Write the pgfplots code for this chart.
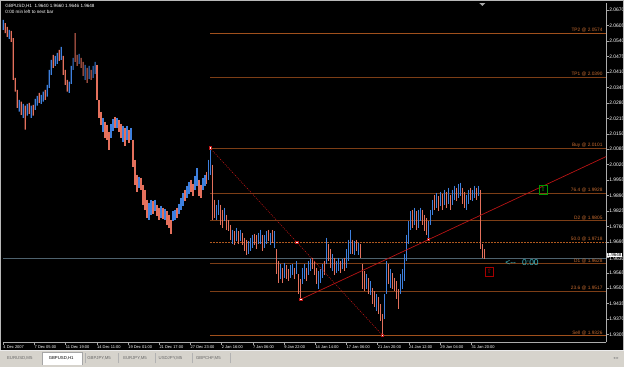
\documentclass[border=0pt]{standalone}
\usepackage{pgfplots}
\pgfplotsset{compat=1.18}
\usepackage{fontspec}
\setmainfont{Liberation Sans}
\newfontfamily\dejavu{DejaVu Sans}
\definecolor{upc}{RGB}{62,128,222}
\definecolor{dnc}{RGB}{228,112,92}
\definecolor{lvl}{RGB}{125,62,22}
\definecolor{lvld}{RGB}{175,88,30}
\definecolor{lvls}{RGB}{160,80,28}
\definecolor{lvltxt}{RGB}{200,108,48}
\definecolor{trend}{RGB}{185,20,20}
\definecolor{tabbg}{RGB}{214,211,204}
\definecolor{cyanish}{RGB}{64,186,196}
\definecolor{pricel}{RGB}{78,98,110}
\newcommand\lvlfont{\fontsize{4.8}{5}\selectfont}

\begin{document}
\begin{tikzpicture}[x=1pt,y=1pt]
% backgrounds
\fill[black] (0,17) rectangle (625,368);
\fill[tabbg] (0,0) rectangle (625,17);

\begin{axis}[
  at={(3pt,25pt)}, anchor=south west, scale only axis,
  width=604pt, height=340pt,
  xmin=3, xmax=607, ymin=1.92724, ymax=2.07004,
  axis x line*=bottom, axis y line*=right,
  axis line style={-, draw=gray!65, line width=0.6pt},
  clip=false, unbounded coords=jump,
  tick align=outside, major tick length=2.5pt,
  tick style={draw=gray!70, line width=0.5pt},
  xtick={3,34.27,65.53,96.8,128.07,159.33,190.6,221.87,253.13,284.4,315.67,346.93,378.2,409.47,440.73,472},
  xticklabels={4 Dec 2007,7 Dec 05:00,11 Dec 19:00,14 Dec 11:00,19 Dec 01:00,21 Dec 17:00,27 Dec 23:00,2 Jan 16:00,7 Jan 06:00,9 Jan 22:00,14 Jan 14:00,17 Jan 06:00,21 Jan 20:00,24 Jan 12:00,29 Jan 04:00,31 Jan 20:00},
  xticklabel style={anchor=north west, text=white, font=\fontsize{4}{4}\selectfont, inner sep=0.5pt, xshift=-0.5pt},
  ytick={2.0670,2.0605,2.0540,2.0475,2.0410,2.0345,2.0280,2.0215,2.0150,2.0085,2.0020,1.9955,1.9890,1.9825,1.9760,1.9695,1.9630,1.9565,1.9500,1.9435,1.9370,1.9305},
  yticklabels={2.0670,2.0605,2.0540,2.0475,2.0410,2.0345,2.0280,2.0215,2.0150,2.0085,2.0020,1.9955,1.9890,1.9825,1.9760,1.9695,\raisebox{-7pt}{1.9630},1.9565,1.9500,1.9435,1.9370,1.9305},
  yticklabel style={anchor=west, text=white, font=\fontsize{5}{5}\selectfont, inner sep=0.5pt},
]
% level lines
\addplot[color=lvls, line width=0.6pt] coordinates {(210,2.0574) (607,2.0574)};
\addplot[color=lvl, line width=0.7pt] coordinates {(210,2.0388) (607,2.0388)};
\addplot[color=lvl, line width=0.7pt] coordinates {(210,2.0089) (607,2.0089)};
\addplot[color=lvl, line width=0.7pt] coordinates {(210,1.9901) (607,1.9901)};
\addplot[color=lvl, line width=0.7pt] coordinates {(210,1.9786) (607,1.9786)};
\addplot[color=lvld, dash pattern=on 2pt off 1pt, line width=0.7pt] coordinates {(210,1.9695) (607,1.9695)};
\addplot[color=lvl, line width=0.7pt] coordinates {(210,1.9604) (607,1.9604)};
\addplot[color=lvl, line width=0.7pt] coordinates {(210,1.9488) (607,1.9488)};
\addplot[color=lvls, line width=0.6pt] coordinates {(210,1.9302) (607,1.9302)};
% current price line
\addplot[color=pricel, line width=0.6pt] coordinates {(3,1.9625) (607,1.9625)};
% up bars 4-7 Dec as filled rectangles (x +- 0.6, low .. high)
\addplot[fill=upc, draw=none, mark=none] coordinates {
(2.4,2.0587)(3.6,2.0587)(3.6,2.0629)(2.4,2.0629)(3,nan)
(8.4,2.0549)(9.6,2.0549)(9.6,2.0587)(8.4,2.0587)(9,nan)
(18.4,2.0243)(19.6,2.0243)(19.6,2.0293)(18.4,2.0293)(19,nan)
(22.4,2.0217)(23.6,2.0217)(23.6,2.0276)(22.4,2.0276)(23,nan)
(26.4,2.0226)(27.6,2.0226)(27.6,2.0276)(26.4,2.0276)(27,nan)
(30.4,2.0217)(31.6,2.0217)(31.6,2.0268)(30.4,2.0268)(31,nan)
(34.4,2.0251)(35.6,2.0251)(35.6,2.0297)(34.4,2.0297)(35,nan)
(36.4,2.0268)(37.6,2.0268)(37.6,2.0310)(36.4,2.0310)(37,nan)
(40.4,2.0276)(41.6,2.0276)(41.6,2.0314)(40.4,2.0314)(41,nan)
(42.4,2.0285)(43.6,2.0285)(43.6,2.0327)(42.4,2.0327)(43,nan)
(46.4,2.0306)(47.6,2.0306)(47.6,2.0356)(46.4,2.0356)(47,nan)
(48.4,2.0343)(49.6,2.0343)(49.6,2.0419)(48.4,2.0419)(49,nan)
(50.4,2.0398)(51.6,2.0398)(51.6,2.0461)(50.4,2.0461)(51,nan)
(54.4,2.0436)(55.6,2.0436)(55.6,2.0478)(54.4,2.0478)(55,nan)
(56.4,2.0444)(57.6,2.0444)(57.6,2.0490)(56.4,2.0490)(57,nan)
(60.4,2.0461)(61.6,2.0461)(61.6,2.0516)(60.4,2.0516)(61,nan)
(68.4,2.0322)(69.6,2.0322)(69.6,2.0369)(68.4,2.0369)(69,nan)
(70.4,2.0360)(71.6,2.0360)(71.6,2.0436)(70.4,2.0436)(71,nan)
(72.4,2.0419)(73.6,2.0419)(73.6,2.0469)(72.4,2.0469)(73,nan)
(78.4,2.0444)(79.6,2.0444)(79.6,2.0486)(78.4,2.0486)(79,nan)
(84.4,2.0377)(85.6,2.0377)(85.6,2.0440)(84.4,2.0440)(85,nan)
(88.4,2.0381)(89.6,2.0381)(89.6,2.0436)(88.4,2.0436)(89,nan)
(92.4,2.0385)(93.6,2.0385)(93.6,2.0436)(92.4,2.0436)(93,nan)
(94.4,2.0402)(95.6,2.0402)(95.6,2.0453)(94.4,2.0453)
};
% down bars 4-7 Dec as filled rectangles
\addplot[fill=dnc, draw=none, mark=none] coordinates {
(4.4,2.0574)(5.6,2.0574)(5.6,2.0616)(4.4,2.0616)(5,nan)
(6.4,2.0558)(7.6,2.0558)(7.6,2.0600)(6.4,2.0600)(7,nan)
(10.4,2.0537)(11.6,2.0537)(11.6,2.0583)(10.4,2.0583)(11,nan)
(12.4,2.0377)(13.6,2.0377)(13.6,2.0553)(12.4,2.0553)(13,nan)
(14.4,2.0327)(15.6,2.0327)(15.6,2.0385)(14.4,2.0385)(15,nan)
(16.4,2.0259)(17.6,2.0259)(17.6,2.0335)(16.4,2.0335)(17,nan)
(20.4,2.0230)(21.6,2.0230)(21.6,2.0285)(20.4,2.0285)(21,nan)
(24.4,2.0167)(25.6,2.0167)(25.6,2.0268)(24.4,2.0268)(25,nan)
(28.4,2.0234)(29.6,2.0234)(29.6,2.0280)(28.4,2.0280)(29,nan)
(32.4,2.0226)(33.6,2.0226)(33.6,2.0272)(32.4,2.0272)(33,nan)
(38.4,2.0280)(39.6,2.0280)(39.6,2.0322)(38.4,2.0322)(39,nan)
(44.4,2.0293)(45.6,2.0293)(45.6,2.0335)(44.4,2.0335)(45,nan)
(52.4,2.0427)(53.6,2.0427)(53.6,2.0482)(52.4,2.0482)(53,nan)
(58.4,2.0457)(59.6,2.0457)(59.6,2.0503)(58.4,2.0503)(59,nan)
(62.4,2.0398)(63.6,2.0398)(63.6,2.0478)(62.4,2.0478)(63,nan)
(64.4,2.0356)(65.6,2.0356)(65.6,2.0419)(64.4,2.0419)(65,nan)
(66.4,2.0327)(67.6,2.0327)(67.6,2.0377)(66.4,2.0377)(67,nan)
(74.4,2.0453)(75.6,2.0453)(75.6,2.0574)(74.4,2.0574)(75,nan)
(76.4,2.0436)(77.6,2.0436)(77.6,2.0482)(76.4,2.0482)(77,nan)
(80.4,2.0427)(81.6,2.0427)(81.6,2.0469)(80.4,2.0469)(81,nan)
(82.4,2.0394)(83.6,2.0394)(83.6,2.0453)(82.4,2.0453)(83,nan)
(86.4,2.0364)(87.6,2.0364)(87.6,2.0427)(86.4,2.0427)(87,nan)
(90.4,2.0377)(91.6,2.0377)(91.6,2.0419)(90.4,2.0419)
};
% up bars from 7 Dec onward: (x, high) (x, low)
\addplot[color=upc, line width=1.25pt, mark=none] coordinates {
(103,2.0217)(103,2.0159)(103,nan)
(111,2.0192)(111,2.0133)(111,nan)
(113,2.0213)(113,2.0163)(113,nan)
(117,2.0217)(117,2.0175)(117,nan)
(123,2.0184)(123,2.0117)(123,nan)
(127,2.0184)(127,2.0125)(127,nan)
(131,2.0175)(131,2.0125)(131,nan)
(139,1.9970)(139,1.9923)(139,nan)
(149,1.9860)(149,1.9789)(149,nan)
(151,1.9873)(151,1.9810)(151,nan)
(155,1.9873)(155,1.9823)(155,nan)
(161,1.9848)(161,1.9797)(161,nan)
(165,1.9835)(165,1.9789)(165,nan)
(173,1.9823)(173,1.9781)(173,nan)
(175,1.9831)(175,1.9789)(175,nan)
(179,1.9856)(179,1.9814)(179,nan)
(181,1.9881)(181,1.9831)(181,nan)
(183,1.9902)(183,1.9848)(183,nan)
(187,1.9932)(187,1.9881)(187,nan)
(189,1.9949)(189,1.9898)(189,nan)
(195,1.9974)(195,1.9915)(195,nan)
(197,2.0007)(197,1.9932)(197,nan)
(203,1.9965)(203,1.9915)(203,nan)
(205,1.9978)(205,1.9932)(205,nan)
(209,2.0041)(209,1.9957)(209,nan)
(211,2.0091)(211,1.9978)(211,nan)
(217,1.9852)(217,1.9789)(217,nan)
(219,1.9873)(219,1.9810)(219,nan)
(225,1.9839)(225,1.9781)(225,nan)
(233,1.9747)(233,1.9684)(233,nan)
(237,1.9755)(237,1.9697)(237,nan)
(241,1.9747)(241,1.9697)(241,nan)
(249,1.9697)(249,1.9642)(249,nan)
(251,1.9713)(251,1.9655)(251,nan)
(253,1.9726)(253,1.9671)(253,nan)
(259,1.9734)(259,1.9688)(259,nan)
(261,1.9747)(261,1.9684)(261,nan)
(265,1.9722)(265,1.9671)(265,nan)
(267,1.9739)(267,1.9688)(267,nan)
(271,1.9734)(271,1.9680)(271,nan)
(275,1.9739)(275,1.9671)(275,nan)
(281,1.9600)(281,1.9537)(281,nan)
(285,1.9608)(285,1.9545)(285,nan)
(291,1.9596)(291,1.9541)(291,nan)
(293,1.9604)(293,1.9554)(293,nan)
(297,1.9613)(297,1.9558)(297,nan)
(303,1.9587)(303,1.9516)(303,nan)
(305,1.9600)(305,1.9537)(305,nan)
(309,1.9613)(309,1.9554)(309,nan)
(311,1.9621)(311,1.9571)(311,nan)
(319,1.9571)(319,1.9495)(319,nan)
(321,1.9579)(321,1.9520)(321,nan)
(323,1.9600)(323,1.9545)(323,nan)
(327,1.9713)(327,1.9600)(327,nan)
(333,1.9642)(333,1.9571)(333,nan)
(337,1.9613)(337,1.9562)(337,nan)
(339,1.9629)(339,1.9571)(339,nan)
(343,1.9621)(343,1.9579)(343,nan)
(347,1.9663)(347,1.9587)(347,nan)
(349,1.9705)(349,1.9613)(349,nan)
(351,1.9747)(351,1.9642)(351,nan)
(355,1.9697)(355,1.9638)(355,nan)
(359,1.9692)(359,1.9638)(359,nan)
(367,1.9558)(367,1.9495)(367,nan)
(371,1.9529)(371,1.9470)(371,nan)
(377,1.9474)(377,1.9403)(377,nan)
(385,1.9474)(385,1.9369)(385,nan)
(387,1.9613)(387,1.9474)(387,nan)
(391,1.9579)(391,1.9503)(391,nan)
(401,1.9558)(401,1.9474)(401,nan)
(403,1.9579)(403,1.9495)(403,nan)
(405,1.9642)(405,1.9529)(405,nan)
(407,1.9726)(407,1.9613)(407,nan)
(409,1.9781)(409,1.9684)(409,nan)
(411,1.9823)(411,1.9747)(411,nan)
(415,1.9839)(415,1.9768)(415,nan)
(419,1.9831)(419,1.9755)(419,nan)
(421,1.9839)(421,1.9781)(421,nan)
(429,1.9781)(429,1.9705)(429,nan)
(431,1.9831)(431,1.9768)(431,nan)
(433,1.9873)(433,1.9810)(433,nan)
(437,1.9902)(437,1.9839)(437,nan)
(441,1.9907)(441,1.9848)(441,nan)
(445,1.9915)(445,1.9852)(445,nan)
(449,1.9923)(449,1.9856)(449,nan)
(453,1.9915)(453,1.9852)(453,nan)
(455,1.9932)(455,1.9873)(455,nan)
(459,1.9940)(459,1.9881)(459,nan)
(461,1.9944)(461,1.9890)(461,nan)
(467,1.9894)(467,1.9831)(467,nan)
(469,1.9915)(469,1.9856)(469,nan)
(473,1.9915)(473,1.9865)(473,nan)
(475,1.9932)(475,1.9881)(475,nan)
(479,1.9932)(479,1.9890)
};
% down bars from 7 Dec onward
\addplot[color=dnc, line width=1.25pt, mark=none] coordinates {
(97,2.0440)(97,2.0293)(97,nan)
(99,2.0293)(99,2.0217)(99,nan)
(101,2.0243)(101,2.0188)(101,nan)
(105,2.0201)(105,2.0133)(105,nan)
(107,2.0188)(107,2.0125)(107,nan)
(109,2.0159)(109,2.0083)(109,nan)
(115,2.0222)(115,2.0175)(115,nan)
(119,2.0209)(119,2.0159)(119,nan)
(121,2.0192)(121,2.0133)(121,nan)
(125,2.0175)(125,2.0100)(125,nan)
(129,2.0167)(129,2.0112)(129,nan)
(133,2.0125)(133,2.0012)(133,nan)
(135,2.0041)(135,1.9936)(135,nan)
(137,1.9978)(137,1.9907)(137,nan)
(141,1.9965)(141,1.9915)(141,nan)
(143,1.9936)(143,1.9852)(143,nan)
(145,1.9915)(145,1.9831)(145,nan)
(147,1.9873)(147,1.9797)(147,nan)
(153,1.9865)(153,1.9814)(153,nan)
(157,1.9852)(157,1.9806)(157,nan)
(159,1.9839)(159,1.9789)(159,nan)
(163,1.9839)(163,1.9793)(163,nan)
(167,1.9823)(167,1.9768)(167,nan)
(169,1.9810)(169,1.9755)(169,nan)
(171,1.9789)(171,1.9730)(171,nan)
(177,1.9839)(177,1.9797)(177,nan)
(185,1.9915)(185,1.9865)(185,nan)
(191,1.9957)(191,1.9907)(191,nan)
(193,1.9940)(193,1.9890)(193,nan)
(199,1.9957)(199,1.9890)(199,nan)
(201,1.9936)(201,1.9881)(201,nan)
(207,1.9991)(207,1.9940)(207,nan)
(213,2.0020)(213,1.9789)(213,nan)
(215,1.9873)(215,1.9797)(215,nan)
(221,1.9852)(221,1.9768)(221,nan)
(223,1.9831)(223,1.9755)(223,nan)
(227,1.9810)(227,1.9747)(227,nan)
(229,1.9789)(229,1.9739)(229,nan)
(231,1.9768)(231,1.9705)(231,nan)
(235,1.9739)(235,1.9680)(235,nan)
(239,1.9739)(239,1.9688)(239,nan)
(243,1.9734)(243,1.9680)(243,nan)
(245,1.9713)(245,1.9655)(245,nan)
(247,1.9705)(247,1.9638)(247,nan)
(255,1.9730)(255,1.9680)(255,nan)
(257,1.9722)(257,1.9663)(257,nan)
(263,1.9726)(263,1.9655)(263,nan)
(269,1.9747)(269,1.9697)(269,nan)
(273,1.9743)(273,1.9692)(273,nan)
(277,1.9663)(277,1.9558)(277,nan)
(279,1.9613)(279,1.9524)(279,nan)
(283,1.9587)(283,1.9524)(283,nan)
(287,1.9596)(287,1.9537)(287,nan)
(289,1.9579)(289,1.9529)(289,nan)
(295,1.9587)(295,1.9537)(295,nan)
(299,1.9558)(299,1.9474)(299,nan)
(301,1.9537)(301,1.9449)(301,nan)
(307,1.9587)(307,1.9529)(307,nan)
(313,1.9629)(313,1.9579)(313,nan)
(315,1.9613)(315,1.9554)(315,nan)
(317,1.9587)(317,1.9516)(317,nan)
(325,1.9613)(325,1.9554)(325,nan)
(329,1.9684)(329,1.9613)(329,nan)
(331,1.9663)(331,1.9587)(331,nan)
(335,1.9629)(335,1.9554)(335,nan)
(341,1.9613)(341,1.9566)(341,nan)
(345,1.9629)(345,1.9571)(345,nan)
(353,1.9705)(353,1.9646)(353,nan)
(357,1.9705)(357,1.9655)(357,nan)
(361,1.9684)(361,1.9629)(361,nan)
(363,1.9600)(363,1.9495)(363,nan)
(365,1.9571)(365,1.9487)(365,nan)
(369,1.9545)(369,1.9474)(369,nan)
(373,1.9503)(373,1.9432)(373,nan)
(375,1.9487)(375,1.9419)(375,nan)
(379,1.9461)(379,1.9390)(379,nan)
(381,1.9432)(381,1.9361)(381,nan)
(383,1.9390)(383,1.9302)(383,nan)
(389,1.9600)(389,1.9516)(389,nan)
(393,1.9562)(393,1.9495)(393,nan)
(395,1.9545)(395,1.9487)(395,nan)
(397,1.9529)(397,1.9453)(397,nan)
(399,1.9495)(399,1.9411)(399,nan)
(413,1.9831)(413,1.9755)(413,nan)
(417,1.9823)(417,1.9747)(417,nan)
(423,1.9831)(423,1.9764)(423,nan)
(425,1.9810)(425,1.9739)(425,nan)
(427,1.9797)(427,1.9722)(427,nan)
(435,1.9894)(435,1.9831)(435,nan)
(439,1.9890)(439,1.9823)(439,nan)
(443,1.9898)(443,1.9831)(443,nan)
(447,1.9907)(447,1.9839)(447,nan)
(451,1.9894)(451,1.9831)(451,nan)
(457,1.9923)(457,1.9865)(457,nan)
(463,1.9923)(463,1.9856)(463,nan)
(465,1.9907)(465,1.9839)(465,nan)
(471,1.9923)(471,1.9873)(471,nan)
(477,1.9923)(477,1.9873)(477,nan)
(481,1.9915)(481,1.9663)(481,nan)
(483,1.9684)(483,1.9629)(483,nan)
(485,1.9663)(485,1.9621)
};
% fibo diagonal and trendline
\addplot[color=trend, dash pattern=on 1pt off 1.2pt, line width=0.6pt] coordinates {(210,2.0091) (383,1.9302)};
\addplot[color=trend, line width=0.7pt] coordinates {(301,1.9453) (607,2.0054)};
\addplot[only marks, mark=square*, mark size=1.1pt, mark options={fill=white, draw=trend, line width=0.5pt}]
  coordinates {(210,2.0091) (297,1.9692) (301,1.9453) (429,1.9705) (383,1.9302)};
% level labels
\begin{scope}[every node/.style={anchor=south east, text=lvltxt, font=\lvlfont, inner sep=0.4pt}]
\node at (axis cs:604,2.0574) {TP2 @ 2.0574};
\node at (axis cs:604,2.0388) {TP1 @ 2.0390};
\node at (axis cs:604,2.0089) {Buy @ 2.0101};
\node at (axis cs:604,1.9901) {76.4 @ 1.9928};
\node at (axis cs:604,1.9786) {D2 @ 1.9805};
\node at (axis cs:604,1.9695) {50.0 @ 1.9718};
\node at (axis cs:604,1.9604) {D1 @ 1.9628};
\node at (axis cs:604,1.9488) {23.6 @ 1.9517};
\node at (axis cs:604,1.9302) {Sell @ 1.9326};
\end{scope}
% price box
\node[anchor=west, fill=white, text=black, font=\fontsize{4.6}{5}\selectfont, inner sep=0.7pt] at (axis cs:607.5,1.9640) {1.9648};
% countdown
\node[anchor=west, text=cyanish, font=\fontsize{8.5}{9}\selectfont, inner sep=0pt] at (axis cs:506,1.9608) {{<}-{}-\,\ \ 0:00};
% arrow boxes
\node[draw=green!60!black, line width=0.6pt, minimum width=8pt, minimum height=9pt, inner sep=0pt, text=green!70!black, font=\dejavu\fontsize{6}{6}\selectfont] at (axis cs:544,1.9915) {⇧};
\node[draw=red!65!black, line width=0.6pt, minimum width=8pt, minimum height=9pt, inner sep=0pt, text=red!70!black, font=\dejavu\fontsize{6}{6}\selectfont] at (axis cs:490,1.9571) {⇧};
% shift marker
\fill[gray!70] (axis cs:480,2.0700) -- (axis cs:486,2.0700) -- (axis cs:483,2.0688) -- cycle;
\end{axis}

% frame, tabs, header
\draw[gray!55, line width=0.8pt] (0.4,17) -- (0.4,367.6) -- (624.6,367.6) -- (624.6,17);
\draw[white!85!gray, line width=0.6pt] (0,17.3) -- (625,17.3);
\fill[white] (42,2.5) rectangle (82,15.5);
\draw[gray!70, line width=0.4pt] (42,2.5) -- (42,15.5) -- (82,15.5) -- (82,2.5);
\foreach \sx in {85,118,155,192,230}{\draw[gray!60, line width=0.4pt] (\sx,4) -- (\sx,14);}
\begin{scope}[every node/.style={font=\fontsize{4.3}{4.5}\selectfont, inner sep=0pt}]
\node[text=gray!80!black] at (19.5,9) {EURUSD,M5};
\node[text=black] at (61,9) {GBPUSD,H1};
\node[text=gray!80!black] at (99,9) {GBPJPY,M5};
\node[text=gray!80!black] at (135,9) {EURJPY,M5};
\node[text=gray!80!black] at (170.5,9) {USDJPY,M5};
\node[text=gray!80!black] at (208.5,9) {GBPCHF,M5};
\end{scope}
\node[text=gray, font=\dejavu\fontsize{4}{4}\selectfont, inner sep=0pt] at (617,9) {◂ ▸};
\node[anchor=west, text=white, font=\fontsize{4.6}{5}\selectfont, inner sep=0pt] at (5,362) {GBPUSD,H1\ \ 1.9640 1.9660 1.9646 1.9648};
\node[anchor=west, text=white, font=\fontsize{4.6}{5}\selectfont, inner sep=0pt] at (5,356.5) {0:00 min left to next bar};
\end{tikzpicture}
\end{document}
